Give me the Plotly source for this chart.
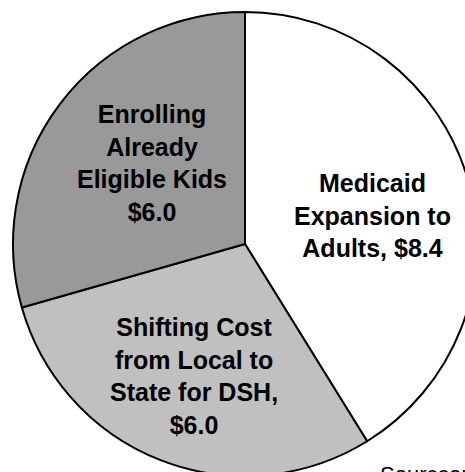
import plotly.graph_objects as go

# ---- data ----
slice_names = ["Medicaid Expansion to Adults",
               "Shifting Cost from Local to State for DSH",
               "Enrolling Already Eligible Kids"]
slice_values = [8.4, 6.0, 6.0]
slice_label_lines = [["Medicaid", "Expansion to", "Adults, "],
                     ["Shifting Cost", "from Local to", "State for DSH,", ""],
                     ["Enrolling", "Already", "Eligible Kids", ""]]
slice_colors = ["#ffffff", "#c0c0c0", "#999999"]
source_text = "Sources:"

# ---- layout constants (pixels) ----
W, H = 490, 490
CX, CY, R = 245, 244, 232
FONT = "Liberation Sans, Arial, sans-serif"

label_pos = [(372, 216), (194, 376), (152, 163)]


def px(x):
    return x / W


def py(y):
    return 1 - y / H


fig = go.Figure()
fig.add_trace(go.Pie(
    labels=slice_names,
    values=slice_values,
    sort=False,
    direction="clockwise",
    rotation=0,
    marker=dict(colors=slice_colors, line=dict(color="#000000", width=2)),
    textinfo="none",
    hoverinfo="label+value",
    showlegend=False,
    domain=dict(x=[px(CX - R), px(CX + R)], y=[py(CY + R), py(CY - R)]),
))

for lines, v, (x, y) in zip(slice_label_lines, slice_values, label_pos):
    text = "<br>".join(lines[:-1] + [lines[-1] + f"${v:.1f}"])
    fig.add_annotation(
        x=px(x), y=py(y), xref="paper", yref="paper",
        text=f"<b>{text}</b>", showarrow=False,
        xanchor="center", yanchor="middle", align="center",
        font=dict(family=FONT, size=25, color="#000000"),
    )

fig.add_annotation(
    x=px(378), y=py(460), xref="paper", yref="paper",
    text=source_text, showarrow=False,
    xanchor="left", yanchor="top", align="left",
    font=dict(family=FONT, size=22, color="#000000"),
)

fig.update_layout(
    width=W, height=H,
    margin=dict(l=0, r=0, t=0, b=0),
    paper_bgcolor="#ffffff",
    plot_bgcolor="#ffffff",
)

fig.write_html(
    "out.html",
    config={"displayModeBar": False},
    post_script="document.body.style.margin='0';document.body.style.overflow='hidden';",
)
